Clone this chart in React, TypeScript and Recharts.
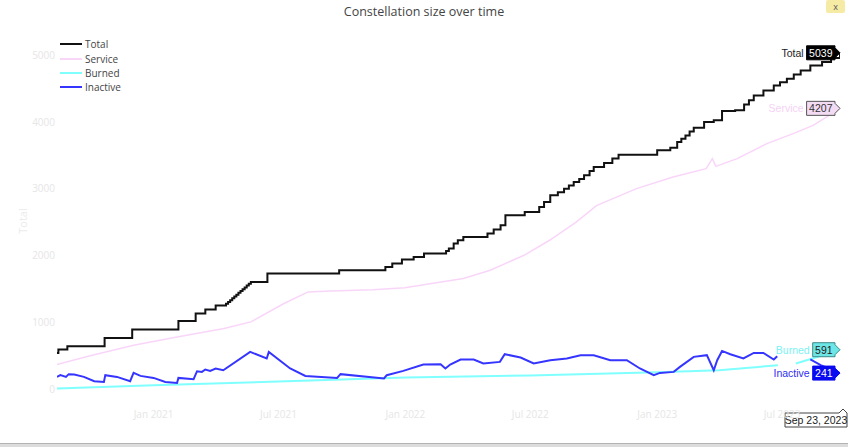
import React from 'react';
import { LineChart, Line, XAxis, YAxis, Legend, ReferenceLine, Label } from 'recharts';

if (typeof document !== 'undefined') {
  document.body.style.margin = '0';
}

const TITLE = 'Constellation size over time';
const Y_TITLE = 'Total';
const X_START = '2020-08-14';
const X_END = '2023-09-23';
const X_TICKS = ['2021-01-01', '2021-07-01', '2022-01-01', '2022-07-01', '2023-01-01', '2023-07-01'];
const Y_TICKS = [0, 1000, 2000, 3000, 4000, 5000];
const Y_DOMAIN = [-252, 5291];
const MONTHS = ['Jan', 'Feb', 'Mar', 'Apr', 'May', 'Jun', 'Jul', 'Aug', 'Sep', 'Oct', 'Nov', 'Dec'];

// Total (value from each date on, step-after)
const totalDates = [
  '2020-08-14', '2020-08-16', '2020-08-29', '2020-10-22', '2020-12-01', '2021-02-06', '2021-03-03', '2021-03-17',
  '2021-04-01', '2021-04-13', '2021-04-16', '2021-04-19', '2021-04-22', '2021-04-25', '2021-04-28', '2021-05-01',
  '2021-05-04', '2021-05-07', '2021-05-10', '2021-05-13', '2021-05-16', '2021-05-19', '2021-05-22', '2021-06-15',
  '2021-09-27', '2021-12-03', '2021-12-13', '2021-12-27', '2022-01-13', '2022-01-28', '2022-03-01', '2022-03-05',
  '2022-03-12', '2022-03-18', '2022-03-26', '2022-04-30', '2022-05-09', '2022-05-19', '2022-05-26', '2022-06-23',
  '2022-07-14', '2022-07-21', '2022-07-30', '2022-08-10', '2022-08-19', '2022-08-26', '2022-09-02', '2022-09-10',
  '2022-09-17', '2022-09-25', '2022-10-01', '2022-10-16', '2022-10-28', '2022-11-06', '2023-01-01', '2023-01-20',
  '2023-01-30', '2023-02-05', '2023-02-11', '2023-02-17', '2023-02-23', '2023-03-10', '2023-03-24', '2023-04-05',
  '2023-04-24', '2023-05-07', '2023-05-14', '2023-05-21', '2023-06-04', '2023-06-19', '2023-06-28', '2023-07-08',
  '2023-07-18', '2023-07-28', '2023-08-11', '2023-08-28', '2023-09-10', '2023-09-23',
];
const totalValues = [
  543, 594, 644, 768, 893, 1022, 1133, 1193,
  1253, 1253, 1280, 1307, 1334, 1361, 1389, 1416,
  1443, 1470, 1497, 1525, 1552, 1579, 1606, 1732,
  1781, 1831, 1882, 1942, 1981, 2031, 2070, 2106,
  2181, 2230, 2280, 2331, 2391, 2455, 2605, 2654,
  2730, 2804, 2904, 2950, 3004, 3050, 3103, 3150,
  3204, 3270, 3328, 3388, 3454, 3513, 3578, 3618,
  3702, 3750, 3802, 3860, 3918, 4001, 4027, 4166,
  4177, 4266, 4330, 4401, 4476, 4551, 4600, 4651,
  4715, 4775, 4850, 4900, 4960, 5039,
];

const serviceDates = [
  '2020-08-14', '2020-10-01', '2020-12-03', '2021-02-04', '2021-04-13', '2021-05-22', '2021-07-09', '2021-08-13',
  '2021-09-15', '2021-11-15', '2021-12-31', '2022-03-26', '2022-05-04', '2022-06-22', '2022-07-29', '2022-09-05',
  '2022-10-05', '2022-12-02', '2023-01-24', '2023-03-13', '2023-03-22', '2023-03-27', '2023-04-27', '2023-06-09',
  '2023-07-17', '2023-08-15', '2023-09-02', '2023-09-23',
];
const serviceValues = [
  370, 500, 659, 783, 909, 1008, 1283, 1457,
  1470, 1490, 1520, 1657, 1781, 2006, 2231, 2500,
  2750, 3004, 3178, 3304, 3454, 3338, 3454, 3678,
  3828, 3952, 4067, 4207,
];

const burnedDates = [
  '2020-08-14', '2021-01-01', '2021-07-01', '2022-01-01', '2022-07-01', '2023-01-01', '2023-04-01', '2023-06-25',
  '2023-07-05', '2023-07-21', '2023-08-14', '2023-09-23',
];
const burnedValues = [10, 58, 115, 175, 205, 254, 284, 359, null, 385, 460, 591];

const inactiveDates = [
  '2020-08-14', '2020-08-19', '2020-08-27', '2020-08-31', '2020-09-08', '2020-09-22', '2020-10-07', '2020-10-21',
  '2020-10-23', '2020-11-09', '2020-11-28', '2020-12-03', '2020-12-13', '2021-01-01', '2021-01-18', '2021-02-04',
  '2021-02-06', '2021-02-28', '2021-03-05', '2021-03-12', '2021-03-17', '2021-03-24', '2021-04-01', '2021-04-12',
  '2021-05-21', '2021-06-14', '2021-06-17', '2021-07-18', '2021-08-09', '2021-09-24', '2021-09-29', '2021-12-01',
  '2021-12-05', '2021-12-29', '2022-01-27', '2022-02-21', '2022-02-28', '2022-03-07', '2022-03-22', '2022-04-10',
  '2022-04-24', '2022-05-18', '2022-05-25', '2022-06-17', '2022-07-06', '2022-07-30', '2022-08-23', '2022-09-12',
  '2022-10-01', '2022-10-25', '2022-11-18', '2022-12-07', '2022-12-27', '2023-01-05', '2023-01-25', '2023-02-03',
  '2023-02-23', '2023-03-14', '2023-03-24', '2023-03-29', '2023-04-05', '2023-04-17', '2023-05-06', '2023-05-21',
  '2023-06-04', '2023-06-19', '2023-06-24', '2023-07-10', '2023-08-11', '2023-08-26', '2023-09-23',
];
const inactiveValues = [
  184, 210, 184, 225, 220, 184, 120, 109,
  210, 184, 120, 244, 199, 169, 109, 94,
  169, 150, 269, 259, 295, 274, 310, 284,
  558, 460, 558, 310, 199, 169, 225, 160,
  210, 274, 370, 374, 310, 370, 445, 445,
  385, 409, 524, 474, 385, 434, 460, 509,
  509, 434, 434, 310, 210, 244, 259, 334,
  484, 509, 284, 434, 573, 524, 460, 543,
  543, 445, 494, null, 445, 359, 241,
];

const SERIES = [
  { name: 'Total', dates: totalDates, values: totalValues, color: '#111111', width: 2, curve: 'stepAfter',
    tagFill: '#000000', tagBorder: '#000000', tagText: '#ffffff', nameColor: '#222222' },
  { name: 'Service', dates: serviceDates, values: serviceValues, color: '#f9d6f9', width: 1.5, curve: 'linear',
    tagFill: '#f3dcf3', tagBorder: '#555555', tagText: '#333333', nameColor: '#f5d2f5' },
  { name: 'Burned', dates: burnedDates, values: burnedValues, color: '#80ffff', width: 2, curve: 'linear',
    tagFill: '#6fe6e6', tagBorder: '#3a8a8a', tagText: '#222222', nameColor: '#7af2f2' },
  { name: 'Inactive', dates: inactiveDates, values: inactiveValues, color: '#3535ff', width: 2, curve: 'linear',
    tagFill: '#0a0af0', tagBorder: '#0a0af0', tagText: '#ffffff', nameColor: '#3030f0' },
];

const toT = (d: string) => Date.parse(d + 'T00:00:00Z');
const fmtTick = (t: number) => {
  const d = new Date(t);
  return `${MONTHS[d.getUTCMonth()]} ${d.getUTCFullYear()}`;
};
const fmtDate = (t: number) => {
  const d = new Date(t);
  return `${MONTHS[d.getUTCMonth()]} ${d.getUTCDate()}, ${d.getUTCFullYear()}`;
};

const FONT = "'Open Sans', 'Noto Sans', sans-serif";
const HOVER_FONT = "'Liberation Sans', Arial, sans-serif";

function makeTag(s: any, lastIndex: number) {
  return (props: any) => {
    if (props.index !== lastIndex || props.value == null) return <g />;
    const x = Number(props.x);
    const y = Number(props.y);
    const txt = String(props.value);
    const w = txt.length * 6.1 + 4;
    const h = 14;
    const right = x - 5;
    const left = right - w;
    const d = `M${x},${y} L${right},${y - 5} L${right},${y - h / 2} L${left},${y - h / 2} L${left},${y + h / 2} L${right},${y + h / 2} L${right},${y + 5} Z`;
    return (
      <g>
        <path d={d} fill={s.tagFill} stroke={s.tagBorder} strokeWidth={1} />
        <text x={(left + right) / 2} y={y} textAnchor="middle" dominantBaseline="central"
          fill={s.tagText} fontSize={10.5} fontFamily={HOVER_FONT}>{txt}</text>
        <text x={left - 3} y={y} textAnchor="end" dominantBaseline="central"
          fill={s.nameColor} fontSize={10.5} fontFamily={HOVER_FONT}>{s.name}</text>
      </g>
    );
  };
}

function DateTag(props: any) {
  const vb = props.viewBox || {};
  const x = Number(vb.x);
  const bottom = Number(vb.y) + Number(vb.height);
  const tipX = x + 3;
  const tipY = bottom + 3;
  const top = bottom + 7;
  const bot = bottom + 21;
  const left = x - 55;
  const right = x + 7;
  const d = `M${tipX},${tipY} L${tipX + 4},${top} L${right},${top} L${right},${bot} L${left},${bot} L${left},${top} L${tipX - 4},${top} Z`;
  return (
    <g>
      <path d={d} fill="#ffffff" stroke="#444444" strokeWidth={1} />
      <text x={(left + right) / 2} y={(top + bot) / 2} textAnchor="middle" dominantBaseline="central"
        fill="#222222" fontSize={10.5} fontFamily={HOVER_FONT}>{fmtDate(toT(X_END))}</text>
    </g>
  );
}

function LegendBox() {
  return (
    <div style={{ fontFamily: FONT, fontSize: 10, color: '#444', textAlign: 'left' }}>
      {SERIES.map((s) => (
        <div key={s.name} style={{ height: 14.4, display: 'flex', alignItems: 'center' }}>
          <svg width={27} height={10} style={{ display: 'block' }}>
            <line x1={2} x2={24} y1={5} y2={5} stroke={s.color} strokeWidth={2} />
          </svg>
          <span style={{ lineHeight: '14px' }}>{s.name}</span>
        </div>
      ))}
    </div>
  );
}

function YTitle(props: any) {
  const vb = props.viewBox || {};
  const cx = 22;
  const cy = Number(vb.y) + Number(vb.height) / 2;
  return (
    <text x={cx} y={cy} transform={`rotate(-90 ${cx} ${cy})`} textAnchor="middle" dominantBaseline="central"
      fill="#ececec" fontSize={11} fontFamily={FONT}>{Y_TITLE}</text>
  );
}

export default function App() {
  const seriesData = SERIES.map((s) => s.dates.map((d, i) => ({ t: toT(d), v: s.values[i] })));
  const xTicks = X_TICKS.map(toT);
  const domain = [toT(X_START), toT(X_END)];

  return (
    <div style={{ position: 'relative', width: 848, height: 447, background: '#ffffff', overflow: 'hidden' }}>
      <div style={{ position: 'absolute', left: 0, top: 3, width: 848, textAlign: 'center', fontFamily: FONT,
        fontSize: 12.5, color: '#444' }}>{TITLE}</div>
      <LineChart width={848} height={447} margin={{ top: 36, right: 8, bottom: 11, left: 0 }}
        style={{ fontFamily: FONT }}>
        <XAxis type="number" dataKey="t" domain={domain} ticks={xTicks} tickFormatter={fmtTick}
          allowDataOverflow axisLine={false} tickLine={false} tickSize={0} tickMargin={5} height={30}
          tick={{ fill: '#e6e6e6', fontSize: 10 }} />
        <YAxis type="number" domain={Y_DOMAIN} ticks={Y_TICKS} allowDataOverflow width={57}
          axisLine={false} tickLine={false} tickSize={0} tickMargin={2} tick={{ fill: '#e6e6e6', fontSize: 10 }}>
          <Label content={<YTitle />} />
        </YAxis>
        <Legend layout="horizontal" verticalAlign="middle" align="center"
          wrapperStyle={{ left: 58, top: 37, width: 120, right: 'auto', bottom: 'auto' }} content={() => <LegendBox />} />
        {SERIES.map((s, i) => (
          <Line key={s.name} name={s.name} data={seriesData[i]} dataKey="v" type={s.curve as any}
            stroke={s.color} strokeWidth={s.width} dot={false} activeDot={false}
            isAnimationActive={false} label={makeTag(s, seriesData[i].length - 1)} />
        ))}
        <ReferenceLine x={toT(X_END)} stroke="none" label={{ content: (p: any) => <DateTag {...p} /> } as any} />
      </LineChart>
      <div style={{ position: 'absolute', left: 826, top: 0, width: 19, height: 13, background: '#f6eba4',
        borderRadius: 2, fontFamily: FONT, fontSize: 9, color: '#555', textAlign: 'center', lineHeight: '13px' }}>x</div>
      <div style={{ position: 'absolute', left: 0, top: 443, width: 848, height: 4, background: '#dcdcdc',
        borderTop: '1px solid #b4b4b4' }} />
    </div>
  );
}
